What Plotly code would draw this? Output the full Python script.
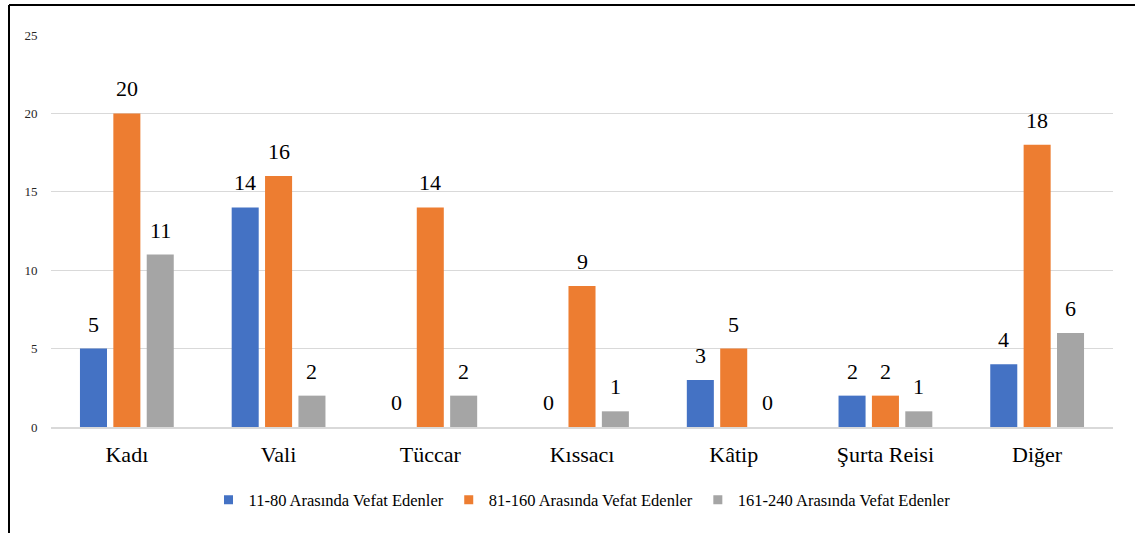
import plotly.graph_objects as go

categories = ["Kadı", "Vali", "Tüccar", "Kıssacı", "Kâtip", "Şurta Reisi", "Diğer"]
series_names = ["11-80 Arasında Vefat Edenler", "81-160 Arasında Vefat Edenler", "161-240 Arasında Vefat Edenler"]
s1 = [5, 14, 0, 0, 3, 2, 4]
s2 = [20, 16, 14, 9, 5, 2, 18]
s3 = [11, 2, 2, 1, 0, 1, 6]
colors = ["#4472C4", "#ED7D31", "#A5A5A5"]

FONT = "Liberation Serif"
BARGAP = 0.34
GROUPGAP = 0.19
W, H = 1135, 533
ML, MR, MT, MB = 51, 22, 35, 106

fig = go.Figure()
all_series = [s1, s2, s3]
for name, vals, col in zip(series_names, all_series, colors):
    fig.add_trace(go.Bar(x=categories, y=vals, name=name, marker_color=col,
                         marker_line_width=0, showlegend=False, legendgroup=name))
for name, col in zip(series_names, colors):
    fig.add_trace(go.Scatter(x=[None], y=[None], mode="markers", name=name,
                             legendgroup=name,
                             marker=dict(symbol="square", size=9, color=col)))

plot_w = W - ML - MR
slot = plot_w / len(categories) * (1 - BARGAP) / 3
annotations = []
for i, vals in enumerate(all_series):
    for c, v in zip(categories, vals):
        annotations.append(dict(x=c, y=v, xref="x", yref="y", text=str(v),
                                showarrow=False, yanchor="bottom",
                                xshift=(i - 1) * slot, yshift=10,
                                font=dict(family=FONT, size=22, color="#000000")))

fig.update_layout(
    width=W, height=H,
    margin=dict(l=ML, r=MR, t=MT, b=MB),
    paper_bgcolor="white", plot_bgcolor="white",
    barmode="group", bargap=BARGAP, bargroupgap=GROUPGAP,
    font=dict(family=FONT, color="#000000"),
    annotations=annotations,
    legend=dict(orientation="h", x=0.5, xanchor="center", y=-0.186, yanchor="middle",
                font=dict(family=FONT, size=16.5, color="#000000"),
                itemwidth=30, traceorder="normal"),
    shapes=[dict(type="line", xref="paper", yref="paper",
                 x0=(9 - ML) / plot_w, x1=1.2, y0=1 + (MT - 5) / (H - MT - MB),
                 y1=1 + (MT - 5) / (H - MT - MB), line=dict(color="black", width=2)),
            dict(type="line", xref="paper", yref="paper",
                 x0=(9 - ML) / plot_w, x1=(9 - ML) / plot_w, y0=-0.5,
                 y1=1 + (MT - 5) / (H - MT - MB), line=dict(color="black", width=2))],
)
fig.update_yaxes(range=[0, 25], dtick=5, showgrid=True, gridcolor="#D9D9D9", gridwidth=1,
                 zeroline=False, showline=False,
                 tickfont=dict(family=FONT, size=13, color="#262626"),
                 ticks="outside", ticklen=10, tickcolor="white")
fig.update_xaxes(showline=True, linecolor="#D9D9D9", linewidth=2,
                 tickfont=dict(family=FONT, size=22, color="#000000"),
                 ticks="outside", ticklen=7, tickcolor="white")

fig.write_html("out.html", config={"displayModeBar": False},
               post_script="document.body.style.margin='0';")
